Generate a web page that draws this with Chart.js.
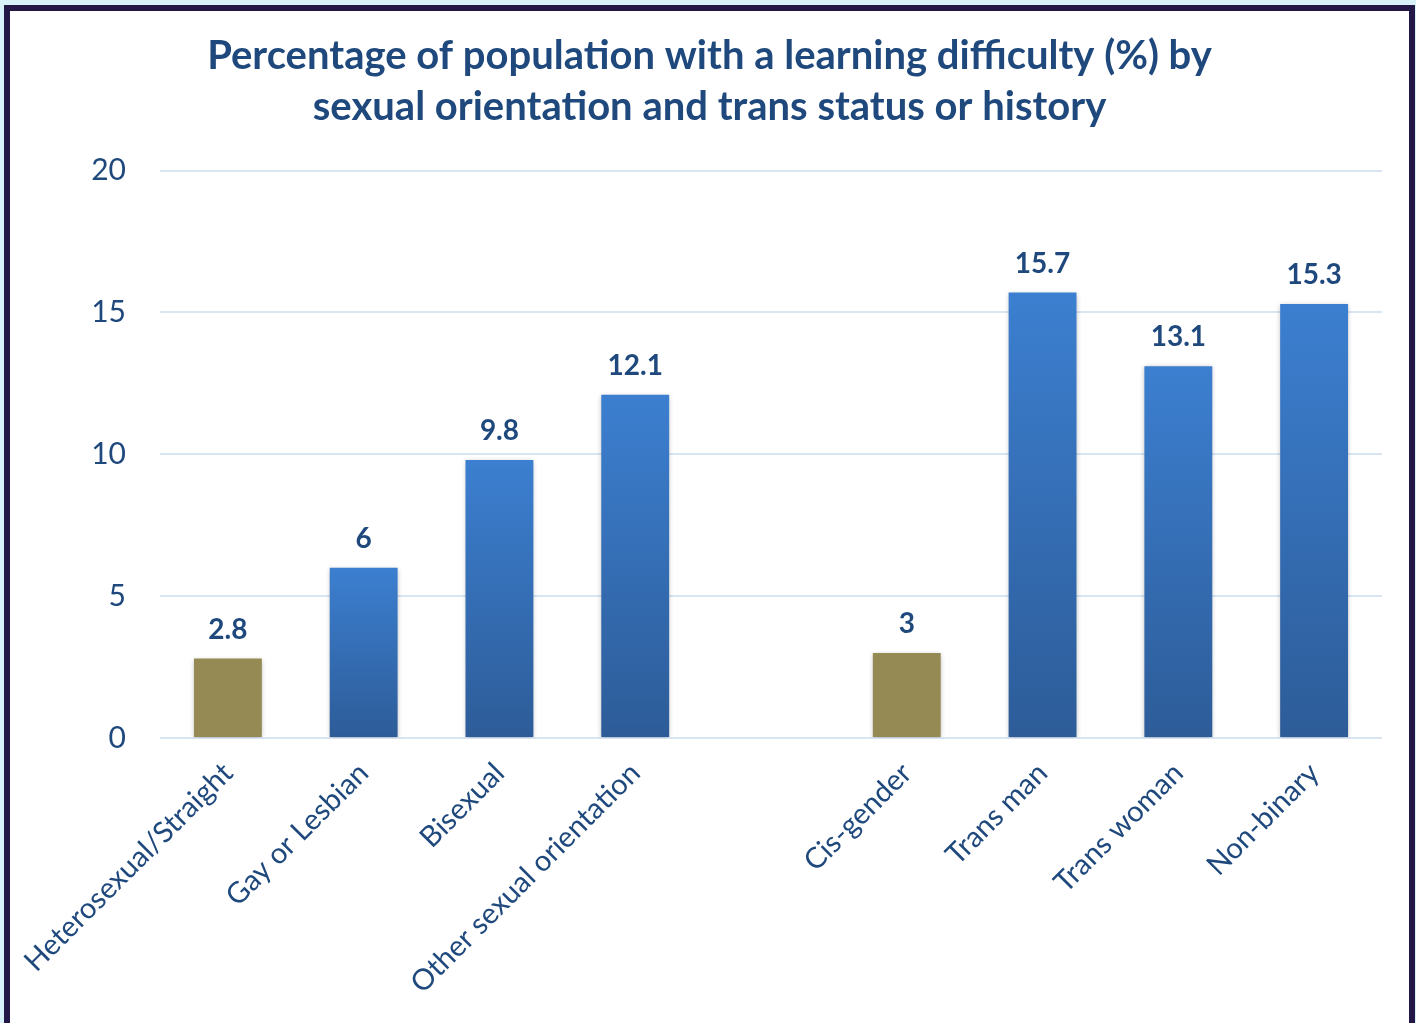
<!DOCTYPE html>
<html>
<head>
<meta charset="utf-8">
<title>Learning difficulty by sexual orientation and trans status</title>
<script src="https://cdn.jsdelivr.net/npm/chart.js@4.4.1/dist/chart.umd.min.js"></script>
<style>
    html, body { margin: 0; padding: 0; background: #d9f1f8; overflow: hidden; }
    #frame {
        position: absolute; left: 4px; top: 5px;
        width: 1399px; height: 1030px;
        border: 6px solid #231745; background: #ffffff;
    }
    #holder { position: relative; width: 1399px; height: 1012px; }
</style>
</head>
<body>
<div id="frame">
    <div id="holder"><canvas id="chartLearning"></canvas></div>
</div>
<script>
// categories (the empty one is the gap between the two groups)
var categories = ['Heterosexual/Straight', 'Gay or Lesbian', 'Bisexual', 'Other sexual orientation', '',
    'Cis-gender', 'Trans man', 'Trans woman', 'Non-binary'];
var values = [2.8, 6, 9.8, 12.1, null, 3, 15.7, 13.1, 15.3];
var baselineGroup = [true, false, false, false, false, true, false, false, false];
var yTicks = [0, 5, 10, 15, 20];

var textColor = '#1f497d';

// bars get a soft shadow like the office chart
var barShadow = {
    id: 'barShadow',
    beforeDatasetsDraw: function (chart) {
        var ctx = chart.ctx;
        ctx.save();
        ctx.shadowColor = 'rgba(0,0,0,0.28)';
        ctx.shadowBlur = 5;
        ctx.shadowOffsetY = 1;
    },
    afterDatasetsDraw: function (chart) {
        chart.ctx.restore();
    }
};

// value labels above each bar
var valueLabels = {
    id: 'valueLabels',
    afterDatasetsDraw: function (chart) {
        var ctx = chart.ctx;
        var meta = chart.getDatasetMeta(0);
        ctx.save();
        ctx.font = 'bold 28px Lato';
        ctx.fillStyle = textColor;
        ctx.textAlign = 'center';
        ctx.textBaseline = 'alphabetic';
        meta.data.forEach(function (bar, i) {
            if (values[i] == null) return;
            ctx.fillText(String(values[i]), bar.x, bar.y - 20);
        });
        ctx.restore();
    }
};

var ctxL = document.getElementById('chartLearning').getContext('2d');
var learningChart = new Chart(ctxL, {
    type: 'bar',
    data: {
        labels: categories,
        datasets: [{
            label: 'Learning difficulty (%)',
            data: values,
            backgroundColor: function (context) {
                var chart = context.chart;
                if (!chart.chartArea) return '#3a7bcc';
                var i = context.dataIndex;
                var v = values[i];
                if (v == null) return 'rgba(0,0,0,0)';
                if (baselineGroup[i]) return '#958a53';
                var yTop = chart.scales.y.getPixelForValue(v);
                var yBot = chart.scales.y.getPixelForValue(0);
                var grad = chart.ctx.createLinearGradient(0, yTop, 0, yBot);
                grad.addColorStop(0, '#3c7fd0');
                grad.addColorStop(1, '#2d5c98');
                return grad;
            },
            borderWidth: 0,
            barPercentage: 0.5,
            categoryPercentage: 1.0
        }]
    },
    options: {
        responsive: true,
        maintainAspectRatio: false,
        animation: false,
        layout: { padding: 0 },
        plugins: {
            legend: { display: false },
            tooltip: { enabled: false },
            title: {
                display: true,
                text: ['Percentage of population with a learning difficulty (%) by',
                    'sexual orientation and trans status or history'],
                color: textColor,
                font: { family: 'Lato', size: 40, weight: 'bold', lineHeight: 1.27 },
                padding: { top: 20, bottom: 38 }
            }
        },
        scales: {
            x: {
                grid: { display: false, drawTicks: false },
                border: { display: false },
                ticks: {
                    color: textColor,
                    font: { family: 'Lato', size: 29 },
                    minRotation: 45,
                    maxRotation: 45,
                    autoSkip: false,
                    padding: 18
                },
                afterFit: function (scale) {
                    scale.height = 285;
                    scale.paddingLeft = 0;
                    // leaves the gap on the right of the plot without shifting the title
                    scale.paddingRight = 27;
                }
            },
            y: {
                min: 0,
                max: 20,
                afterBuildTicks: function (scale) {
                    scale.ticks = yTicks.map(function (v) { return { value: v }; });
                },
                grid: { color: '#d9e5f3', lineWidth: 2, drawTicks: false },
                border: { display: false },
                ticks: {
                    color: textColor,
                    font: { family: 'Lato', size: 30 },
                    padding: 34
                },
                afterFit: function (scale) { scale.width = 150; }
            }
        }
    },
    plugins: [barShadow, valueLabels]
});
</script>
</body>
</html>
